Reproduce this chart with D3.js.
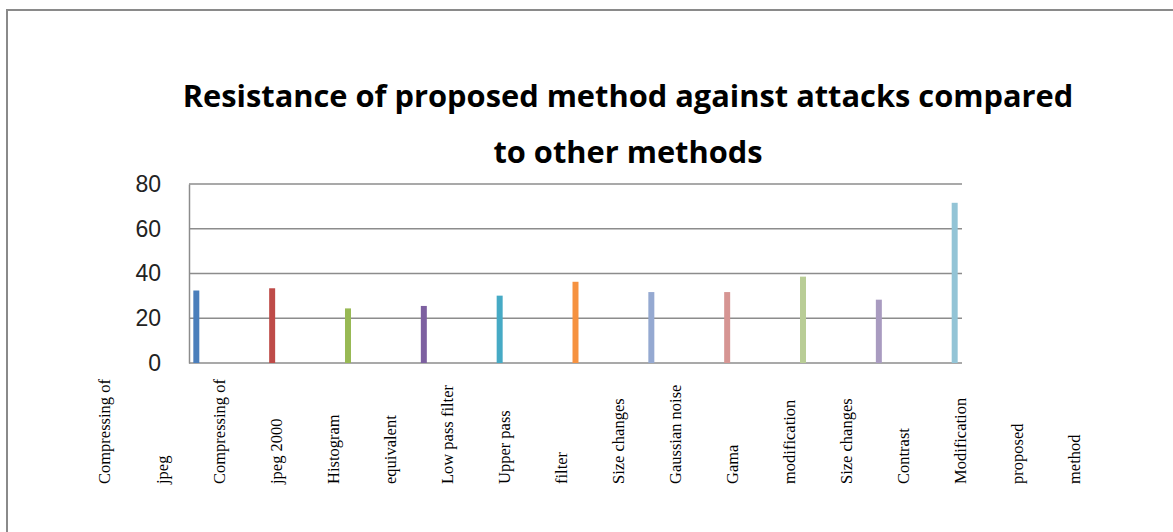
<!DOCTYPE html>
<html>
<head>
<meta charset="utf-8">
<script src="https://cdn.jsdelivr.net/npm/d3@7"></script>
<style>
  html, body { margin: 0; padding: 0; background: #fff; }
  svg { display: block; }
</style>
</head>
<body>
<div id="chart"></div>
<script>
// chart data
const seriesNames = ["Compressing of jpeg", "Compressing of jpeg 2000", "Histogram equivalent",
  "Low pass filter", "Upper pass filter", "Size changes", "Gaussian noise",
  "Gama modification", "Size changes ", "Contrast Modification", "proposed method"];
const seriesValues = [32.4, 33.4, 24.4, 25.5, 30.1, 36.3, 31.7, 31.7, 38.6, 28.3, 71.6];
const seriesColors = ["#4a7ebb", "#be4b48", "#98b954", "#7d60a0", "#46aac5", "#f69240",
  "#95a9d1", "#d69593", "#b9cd96", "#a99bc0", "#93c4d6"];
const xLabels = ["Compressing of", "jpeg", "Compressing of", "jpeg 2000", "Histogram", "equivalent",
  "Low pass filter", "Upper pass", "filter", "Size changes", "Gaussian noise", "Gama",
  "modification", "Size changes", "Contrast", "Modification", "proposed", "method"];
const yTicks = [0, 20, 40, 60, 80];
const titleLines = ["Resistance of proposed method against attacks compared", "to other methods"];

const W = 1173, H = 532;
const plot = { left: 189, right: 962, top: 184, bottom: 363 };

const svg = d3.select("#chart").append("svg")
  .attr("width", W).attr("height", H);

svg.append("rect").attr("width", W).attr("height", H).attr("fill", "#fff");

// outer frame (right and bottom edges fall outside the picture)
svg.append("rect")
  .attr("x", 7).attr("y", 10)
  .attr("width", 1300).attr("height", 700)
  .attr("fill", "none")
  .attr("stroke", "#8a8a8a")
  .attr("stroke-width", 2);

// title
svg.append("g").selectAll("text")
  .data(titleLines)
  .enter().append("text")
  .attr("x", 628)
  .attr("y", (d, i) => 107 + i * 56)
  .attr("text-anchor", "middle")
  .style("font-family", "'Open Sans', 'Noto Sans', sans-serif")
  .style("font-weight", "bold")
  .style("font-size", "30.8px")
  .style("fill", "#000")
  .text(d => d);

const y = d3.scaleLinear().domain([0, 80]).range([plot.bottom, plot.top]);

const x = d3.scaleBand()
  .domain(seriesNames)
  .range([plot.left, plot.right])
  .paddingInner(0.921)
  .paddingOuter(0.057);

// gridlines
svg.append("g").selectAll("line")
  .data(yTicks)
  .enter().append("line")
  .attr("x1", plot.left).attr("x2", plot.right)
  .attr("y1", d => y(d)).attr("y2", d => y(d))
  .attr("stroke", "#8c8c8c")
  .attr("stroke-width", 1.5);

// y axis
const yAxis = svg.append("g")
  .attr("transform", `translate(${plot.left},0)`)
  .call(d3.axisLeft(y).tickValues(yTicks).tickSize(0).tickPadding(28));
yAxis.select(".domain").attr("stroke", "#8c8c8c").attr("stroke-width", 1.5);
yAxis.selectAll("text")
  .style("font-family", "'Liberation Sans', Arial, sans-serif")
  .style("font-size", "23px")
  .style("fill", "#222");

// bars
svg.append("g").selectAll("rect")
  .data(seriesValues)
  .enter().append("rect")
  .attr("x", (d, i) => x(seriesNames[i]))
  .attr("width", x.bandwidth())
  .attr("y", d => y(d))
  .attr("height", d => y(0) - y(d))
  .attr("fill", (d, i) => seriesColors[i]);

// category labels, rotated
const xl = d3.scalePoint().domain(d3.range(xLabels.length)).range([105, 1075]);
svg.append("g").selectAll("text")
  .data(xLabels)
  .enter().append("text")
  .attr("transform", (d, i) => `translate(${xl(i)},484) rotate(-90)`)
  .attr("dy", "0.33em")
  .attr("text-anchor", "start")
  .style("font-family", "'Liberation Serif', 'Times New Roman', serif")
  .style("font-size", "16.5px")
  .style("fill", "#000")
  .text(d => d);
</script>
</body>
</html>
